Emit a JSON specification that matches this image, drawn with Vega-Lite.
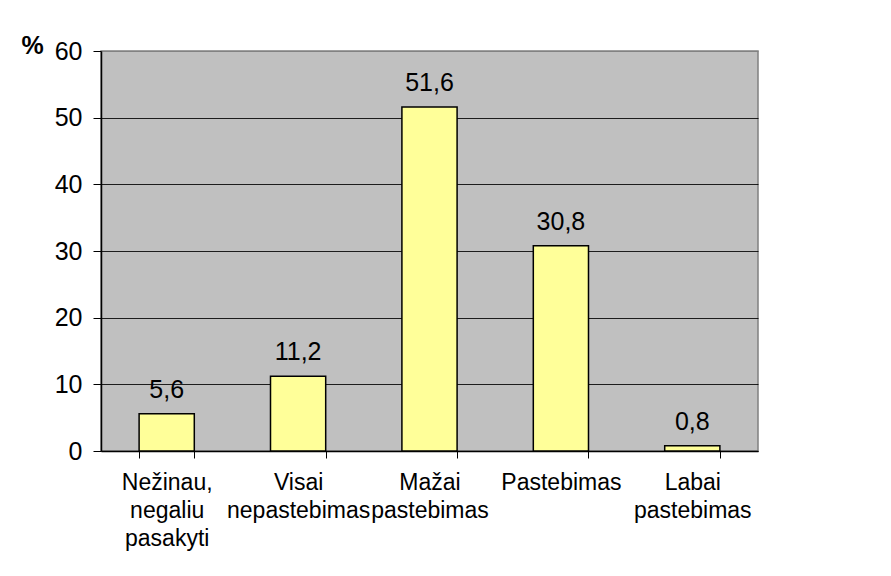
{
  "$schema": "https://vega.github.io/schema/vega-lite/v6.json",
  "width": 657,
  "height": 400,
  "autosize": {"type": "none"},
  "padding": {"left": 101, "top": 51, "right": 133, "bottom": 125},
  "background": "white",
  "config": {
    "view": {"fill": "#C0C0C0", "stroke": "#808080", "strokeWidth": 1.5},
    "font": "Liberation Sans"
  },
  "data": {
    "values": [
      {"category": "Nežinau,\nnegaliu\npasakyti", "value": 5.6, "label": "5,6"},
      {"category": "Visai\nnepastebimas", "value": 11.2, "label": "11,2"},
      {"category": "Mažai\npastebimas", "value": 51.6, "label": "51,6"},
      {"category": "Pastebimas", "value": 30.8, "label": "30,8"},
      {"category": "Labai\npastebimas", "value": 0.8, "label": "0,8"}
    ]
  },
  "encoding": {
    "x": {
      "field": "category",
      "type": "nominal",
      "sort": null,
      "scale": {"paddingInner": 0.58, "paddingOuter": 0.29},
      "axis": {
        "title": null,
        "labelAngle": 0,
        "labelExpr": "split(datum.label, '\\n')",
        "labelFontSize": 23,
        "labelColor": "black",
        "labelLineHeight": 28,
        "labelPadding": 13,
        "labelBaseline": "top",
        "tickBand": "extent",
        "tickSize": 7,
        "tickColor": "black",
        "domainColor": "black",
        "domainWidth": 1.5,
        "labelLimit": 0
      }
    }
  },
  "layer": [
    {
      "mark": {"type": "bar", "fill": "#FFFF99", "stroke": "black", "strokeWidth": 1.5},
      "encoding": {
        "y": {
          "field": "value",
          "type": "quantitative",
          "scale": {"domain": [0, 60], "nice": false},
          "axis": {
            "values": [0, 10, 20, 30, 40, 50, 60],
            "title": "%",
            "titleAngle": 0,
            "titleFontSize": 25,
            "titleFontWeight": "bold",
            "titleAlign": "left",
            "titleBaseline": "alphabetic",
            "titleX": -80,
            "titleY": 2,
            "labelFontSize": 25,
            "labelColor": "black",
            "labelPadding": 11,
            "tickSize": 8,
            "tickColor": "black",
            "domainColor": "black",
            "domainWidth": 1.5,
            "grid": true,
            "gridColor": {"condition": {"test": "datum.value === 60", "value": "#808080"}, "value": "black"},
            "gridWidth": 1,
            "gridOpacity": 0.85
          }
        }
      }
    },
    {
      "mark": {"type": "text", "fontSize": 25, "baseline": "alphabetic", "dy": -16, "color": "black"},
      "encoding": {
        "y": {"field": "value", "type": "quantitative"},
        "text": {"field": "label"}
      }
    }
  ]
}
